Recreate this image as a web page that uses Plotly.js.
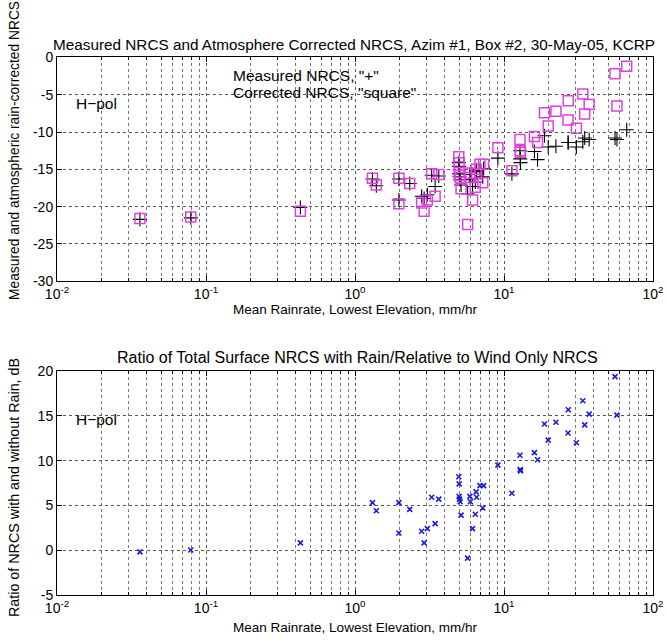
<!DOCTYPE html>
<html>
<head>
<meta charset="utf-8">
<script src="https://cdn.plot.ly/plotly-3.0.1.min.js"></script>
<style>html,body{margin:0;padding:0;background:#fff;}#chart{width:666px;height:640px;}</style>
</head>
<body>
<div id="chart"></div>
<script>
// Mean rainrate, lowest elevation (mm/hr)
const rainRate = [0.036, 0.079, 0.43, 1.31, 1.39, 1.97, 1.97, 2.33, 2.80, 2.91, 3.06, 3.27, 3.45, 3.65,
  4.97, 5.0, 5.0, 5.03, 5.08, 5.15, 5.7, 5.9, 5.95, 6.15, 6.42, 6.5, 6.55, 6.9, 7.2, 7.3,
  9.1, 11.3, 12.8, 12.85, 12.9, 16.0, 16.8, 18.7, 19.8, 22.3, 26.9, 27.0, 30.6, 33.8, 34.8, 37.3,
  55.6, 57.3, 66.6];
// Measured NRCS, "+" (dB)
const measuredNRCS = [-21.7, -21.5, -20.1, -16.3, -17.2, -16.3, -19.1, -16.9, -18.6, -18.9, -18.4, -15.8, -17.3, -15.9,
  -14.1, -14.6, -15.6, -16.0, -16.4, -17.1, -18.3, -15.7, -16.4, -17.3, -16.7, -15.3, -15.1, -15.0, -16.0, -14.9,
  -13.5, -15.6, -12.5, -13.6, -14.1, -12.6, -13.7, -10.5, -12.0, -11.9, -11.4, -11.4, -12.0, -11.3, -10.8, -11.0,
  -10.8, -11.0, -9.7];
// Corrected NRCS, "square" (dB)
const correctedNRCS = [-21.6, -21.4, -20.6, -16.2, -17.1, -16.2, -19.6, -16.9, -19.5, -20.6, -19.1, -15.6, -18.6, -15.7,
  -13.3, -14.1, -15.4, -15.8, -16.1, -17.6, -22.4, -15.5, -16.1, -19.1, -17.4, -15.0, -15.6, -14.3, -16.8, -14.3,
  -12.1, -15.2, -11.0, -12.5, -12.7, -10.6, -11.4, -7.4, -9.2, -7.2, -8.4, -5.8, -9.5, -4.9, -7.6, -6.3,
  -2.2, -6.5, -1.2];
// Ratio of NRCS with and without rain (dB)
const ratioDB = [-0.2, 0.0, 0.8, 5.3, 4.4, 5.3, 1.9, 4.55, 2.1, 0.8, 2.4, 5.9, 2.95, 5.7,
  8.2, 7.4, 6.0, 5.7, 5.4, 3.9, -0.9, 6.0, 5.4, 2.4, 4.0, 6.5, 5.9, 7.2, 4.7, 7.2,
  9.5, 6.35, 10.6, 9.0, 8.85, 10.9, 10.1, 14.1, 12.3, 14.3, 13.1, 15.7, 12.0, 16.7, 14.0, 15.2,
  19.4, 15.1, 20.4];

const xTickVals = [0.01, 0.1, 1, 10, 100];
const xTickText = ['10<sup>-2</sup>', '10<sup>-1</sup>', '10<sup>0</sup>', '10<sup>1</sup>', '10<sup>2</sup>'];
const yTopVals = [0, -5, -10, -15, -20, -25, -30];
const yTopText = ['0', '-5', '-10', '-15', '-20', '-25', '-30'];
const yBotVals = [20, 15, 10, 5, 0, -5];
const yBotText = ['20', '15', '10', '5', '0', '-5'];

const FONT = 'Liberation Sans, Arial, sans-serif';
const MAGENTA = '#e040e0';
const BLUE = '#1a1ae6';

const traces = [
  {x: rainRate, y: measuredNRCS, xaxis: 'x', yaxis: 'y', mode: 'markers', type: 'scatter', name: 'Measured NRCS',
   marker: {symbol: 'cross-thin-open', size: 10, color: '#000', line: {color: '#000', width: 1.1}}},
  {x: rainRate, y: correctedNRCS, xaxis: 'x', yaxis: 'y', mode: 'markers', type: 'scatter', name: 'Corrected NRCS',
   marker: {symbol: 'square-open', size: 10, color: MAGENTA, line: {color: MAGENTA, width: 1.5}}},
  {x: rainRate, y: ratioDB, xaxis: 'x2', yaxis: 'y2', mode: 'markers', type: 'scatter', name: 'Ratio',
   marker: {symbol: 'x-thin-open', size: 5, color: BLUE, line: {color: BLUE, width: 1.6}}}
];

function xAxis(anchor, standoff) {
  return {
    type: 'log', range: [-2, 2], domain: [57/666, 653/666], anchor: anchor,
    tickvals: xTickVals, ticktext: xTickText,
    ticks: 'inside', ticklen: 5, tickcolor: '#000', mirror: 'ticks',
    showline: true, linecolor: '#000', linewidth: 1,
    showgrid: true, gridcolor: '#555', griddash: 'dot', gridwidth: 1,
    minor: {dtick: 'D1', ticks: 'inside', ticklen: 3, tickcolor: '#000', showgrid: true, gridcolor: '#777', griddash: 'dot', gridwidth: 1},
    tickfont: {family: FONT, size: 14, color: '#000'},
    title: {text: 'Mean Rainrate, Lowest Elevation, mm/hr', font: {family: FONT, size: 13.5, color: '#000'}, standoff: standoff},
    zeroline: false, fixedrange: true
  };
}
function yAxis(anchor, dom, rng, vals, txt) {
  return {
    domain: dom, range: rng, anchor: anchor,
    tickvals: vals, ticktext: txt,
    ticks: 'inside', ticklen: 5, tickcolor: '#000', mirror: 'ticks',
    showline: true, linecolor: '#000', linewidth: 1,
    showgrid: true, gridcolor: '#555', griddash: 'dot', gridwidth: 1,
    tickfont: {family: FONT, size: 14, color: '#000'},
    zeroline: false, fixedrange: true
  };
}

const layout = {
  width: 666, height: 640,
  margin: {l: 0, r: 0, t: 0, b: 0},
  paper_bgcolor: '#fff', plot_bgcolor: '#fff',
  showlegend: false,
  font: {family: FONT, color: '#000'},
  title: {text: 'Measured NRCS and Atmosphere Corrected NRCS, Azim #1, Box #2, 30-May-05, KCRP',
          font: {family: FONT, size: 15.3, color: '#000'}, x: 354/666, xanchor: 'center', y: 1 - 45/640, yanchor: 'middle'},
  xaxis: xAxis('y', 0),
  yaxis: yAxis('x', [1 - 281.3/640, 1 - 57.4/640], [-30, 0], yTopVals, yTopText),
  xaxis2: xAxis('y2', 8),
  yaxis2: yAxis('x2', [1 - 594.7/640, 1 - 371.3/640], [-5, 20], yBotVals, yBotText),
  annotations: [
    {text: 'Measured and atmospheric rain-corrected NRCS', xref: 'paper', yref: 'paper', textangle: -90,
     x: 14/666, y: 1 - 151/640, xanchor: 'center', yanchor: 'middle', showarrow: false,
     font: {family: FONT, size: 13.8, color: '#000'}},
    {text: 'Ratio of NRCS with and without Rain, dB', xref: 'paper', yref: 'paper', textangle: -90,
     x: 14/666, y: 1 - 488/640, xanchor: 'center', yanchor: 'middle', showarrow: false,
     font: {family: FONT, size: 14.3, color: '#000'}},
    {text: 'Ratio of Total Surface NRCS with Rain/Relative to Wind Only NRCS', xref: 'paper', yref: 'paper',
     x: 357/666, y: 1 - 357/640, xanchor: 'center', yanchor: 'middle', showarrow: false,
     font: {family: FONT, size: 16, color: '#000'}},
    {text: 'Measured NRCS, "+"', xref: 'paper', yref: 'paper', x: 231/666, y: 1 - 75/640,
     xanchor: 'left', yanchor: 'middle', showarrow: false, font: {family: FONT, size: 15.5, color: '#000'}},
    {text: 'Corrected NRCS, "square"', xref: 'paper', yref: 'paper', x: 231/666, y: 1 - 93/640,
     xanchor: 'left', yanchor: 'middle', showarrow: false, font: {family: FONT, size: 15.5, color: '#000'}},
    {text: 'H\u2212pol', xref: 'paper', yref: 'paper', x: 74/666, y: 1 - 104/640,
     xanchor: 'left', yanchor: 'middle', showarrow: false, font: {family: FONT, size: 15.5, color: '#000'}},
    {text: 'H\u2212pol', xref: 'paper', yref: 'paper', x: 74/666, y: 1 - 419/640,
     xanchor: 'left', yanchor: 'middle', showarrow: false, font: {family: FONT, size: 15.5, color: '#000'}}
  ]
};

Plotly.newPlot('chart', traces, layout, {displayModeBar: false, staticPlot: true});
</script>
</body>
</html>
